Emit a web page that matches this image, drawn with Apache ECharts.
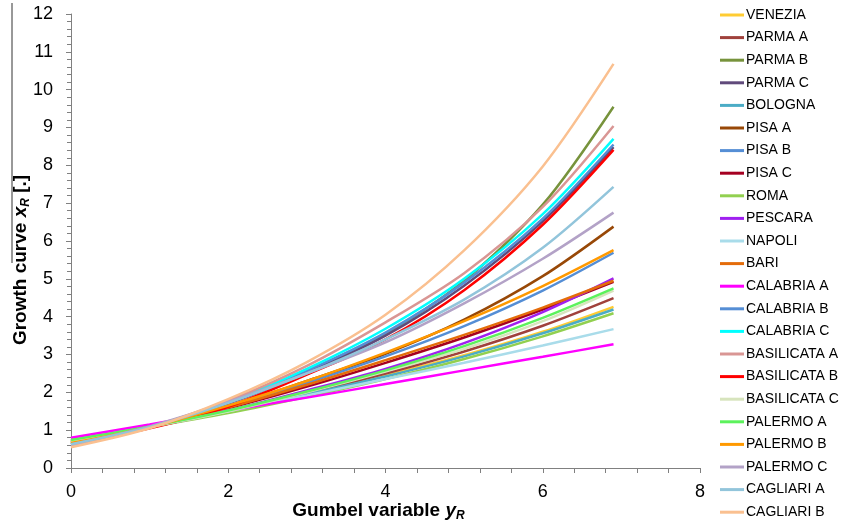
<!DOCTYPE html>
<html>
<head>
<meta charset="utf-8">
<script src="https://cdn.jsdelivr.net/npm/echarts@6/dist/echarts.min.js"></script>
<style>
  html, body { margin: 0; padding: 0; background: #fff; }
  #main { width: 844px; height: 528px; }
</style>
</head>
<body>
<div id="main"></div>
<script>
// Gumbel reduced variable at which the curves were read
var gumbelY = [0, 1, 2, 3, 4, 5, 6, 6.9];

// growth curves, one per region
var venezia     = [0.70, 1.08, 1.50, 1.95, 2.45, 2.98, 3.60, 4.26];
var parmaA      = [0.72, 1.08, 1.50, 1.98, 2.50, 3.08, 3.76, 4.49];
var parmaB      = [0.62, 1.07, 1.72, 2.55, 3.55, 4.95, 6.96, 9.55];
var parmaC      = [0.64, 1.08, 1.70, 2.52, 3.50, 4.82, 6.52, 8.48];
var bologna     = [0.72, 1.08, 1.50, 1.95, 2.42, 2.95, 3.56, 4.19];
var pisaA       = [0.68, 1.08, 1.62, 2.30, 3.02, 3.92, 5.07, 6.38];
var pisaB       = [0.65, 1.08, 1.62, 2.25, 2.95, 3.75, 4.69, 5.69];
var pisaC       = [0.70, 1.08, 1.58, 2.15, 2.78, 3.45, 4.19, 4.92];
var roma        = [0.74, 1.08, 1.45, 1.88, 2.35, 2.88, 3.48, 4.09];
var pescara     = [0.72, 1.08, 1.52, 2.05, 2.62, 3.30, 4.12, 5.01];
var napoli      = [0.72, 1.10, 1.50, 1.92, 2.35, 2.78, 3.24, 3.67];
var bari        = [0.68, 1.10, 1.60, 2.20, 2.85, 3.52, 4.24, 4.95];
var calabriaA   = [0.80, 1.15, 1.52, 1.86, 2.22, 2.58, 2.94, 3.27];
var calabriaB   = [0.63, 1.08, 1.73, 2.57, 3.58, 4.90, 6.59, 8.55];
var calabriaC   = [0.62, 1.08, 1.75, 2.62, 3.68, 5.00, 6.71, 8.70];
var basilicataA = [0.60, 1.08, 1.78, 2.70, 3.85, 5.15, 6.90, 9.04];
var basilicataB = [0.66, 1.05, 1.62, 2.47, 3.40, 4.70, 6.43, 8.41];
var basilicataC = [0.70, 1.08, 1.50, 2.00, 2.55, 3.15, 3.88, 4.69];
var palermoA    = [0.74, 1.10, 1.52, 2.02, 2.58, 3.22, 3.97, 4.75];
var palermoB    = [0.66, 1.08, 1.65, 2.30, 3.05, 3.88, 4.81, 5.76];
var palermoC    = [0.62, 1.10, 1.75, 2.50, 3.32, 4.35, 5.53, 6.75];
var cagliariA   = [0.63, 1.08, 1.72, 2.50, 3.40, 4.45, 5.82, 7.43];
var cagliariB   = [0.55, 1.05, 1.82, 2.80, 4.05, 5.75, 7.97, 10.68];

var names = ['VENEZIA', 'PARMA A', 'PARMA B', 'PARMA C', 'BOLOGNA', 'PISA A', 'PISA B', 'PISA C',
  'ROMA', 'PESCARA', 'NAPOLI', 'BARI', 'CALABRIA A', 'CALABRIA B', 'CALABRIA C',
  'BASILICATA A', 'BASILICATA B', 'BASILICATA C', 'PALERMO A', 'PALERMO B', 'PALERMO C',
  'CAGLIARI A', 'CAGLIARI B'];
var values = [venezia, parmaA, parmaB, parmaC, bologna, pisaA, pisaB, pisaC,
  roma, pescara, napoli, bari, calabriaA, calabriaB, calabriaC,
  basilicataA, basilicataB, basilicataC, palermoA, palermoB, palermoC,
  cagliariA, cagliariB];
var colors = ['#FFCC33', '#A0413C', '#77933C', '#604A7B', '#4BACC6', '#984807', '#558ED5', '#A50021',
  '#92D050', '#A020F0', '#A9DCEA', '#E46C0A', '#FF00FF', '#558ED5', '#00FFFF',
  '#D99694', '#FF0000', '#D7E4BD', '#5CF25C', '#FF9900', '#B3A2C7',
  '#92C5DB', '#FAC090'];

var myChart = echarts.init(document.getElementById('main'));

var series = names.map(function (n, i) {
  return {
    name: n,
    type: 'line',
    smooth: 0.3,
    symbol: 'none',
    lineStyle: { width: 2.5, color: colors[i] },
    itemStyle: { color: colors[i] },
    data: gumbelY.map(function (y, j) { return [y, values[i][j]]; })
  };
});

var axisColor = '#808080';
var font = 'Liberation Sans, Arial, sans-serif';

// bold title pieces with italic subscript
var nameRich = {
  b: { fontSize: 19, fontWeight: 'bold', color: '#000', lineHeight: 22, fontFamily: font },
  i: { fontSize: 19, fontWeight: 'bold', fontStyle: 'italic', color: '#000', lineHeight: 22, fontFamily: font },
  s: { fontSize: 12, fontWeight: 'bold', fontStyle: 'italic', color: '#000', lineHeight: 12, verticalAlign: 'bottom', fontFamily: font }
};

var option = {
  animation: false,
  textStyle: { fontFamily: font },
  grid: { left: 71, right: 144, top: 14, bottom: 60, outerBoundsMode: 'none', containLabel: false },
  legend: {
    orient: 'vertical',
    left: 715,
    top: 3,
    icon: 'rect',
    itemWidth: 24,
    itemHeight: 3,
    itemGap: 8.6,
    textStyle: { fontSize: 14, lineHeight: 14, color: '#000', fontFamily: font, padding: [0, 0, 0, -3] },
    data: names
  },
  xAxis: {
    type: 'value',
    min: 0,
    max: 8,
    interval: 2,
    name: '{b|Gumbel variable }{i|y}{s|R}',
    nameLocation: 'middle',
    nameGap: 32,
    nameMoveOverlap: false,
    nameTextStyle: { rich: nameRich, padding: [0, 14, 0, 0] },
    axisLine: { lineStyle: { color: axisColor, width: 1 } },
    axisTick: { show: true, length: 5, lineStyle: { color: axisColor } },
    minorTick: { show: true, splitNumber: 5, length: 5, lineStyle: { color: axisColor } },
    axisLabel: { fontSize: 18, color: '#000', margin: 15 },
    splitLine: { show: false }
  },
  yAxis: {
    type: 'value',
    min: 0,
    max: 12,
    interval: 1,
    name: '{b|Growth curve }{i|x}{s|R}{b| [.]}',
    nameLocation: 'middle',
    nameGap: 39,
    nameMoveOverlap: false,
    nameTextStyle: { rich: nameRich, padding: [0, 38, 0, 0] },
    axisLine: { show: true, lineStyle: { color: axisColor, width: 1 } },
    axisTick: { show: true, length: 5, lineStyle: { color: axisColor } },
    minorTick: { show: true, splitNumber: 5, length: 4, lineStyle: { color: axisColor } },
    axisLabel: { fontSize: 18, color: '#000', margin: 18 },
    splitLine: { show: false }
  },
  graphic: [{
    // stray overline above the y title, as in the source figure
    type: 'line',
    shape: { x1: 12, y1: 3, x2: 12, y2: 263 },
    style: { stroke: '#333', lineWidth: 1 }
  }],
  series: series
};

myChart.setOption(option);
</script>
</body>
</html>
